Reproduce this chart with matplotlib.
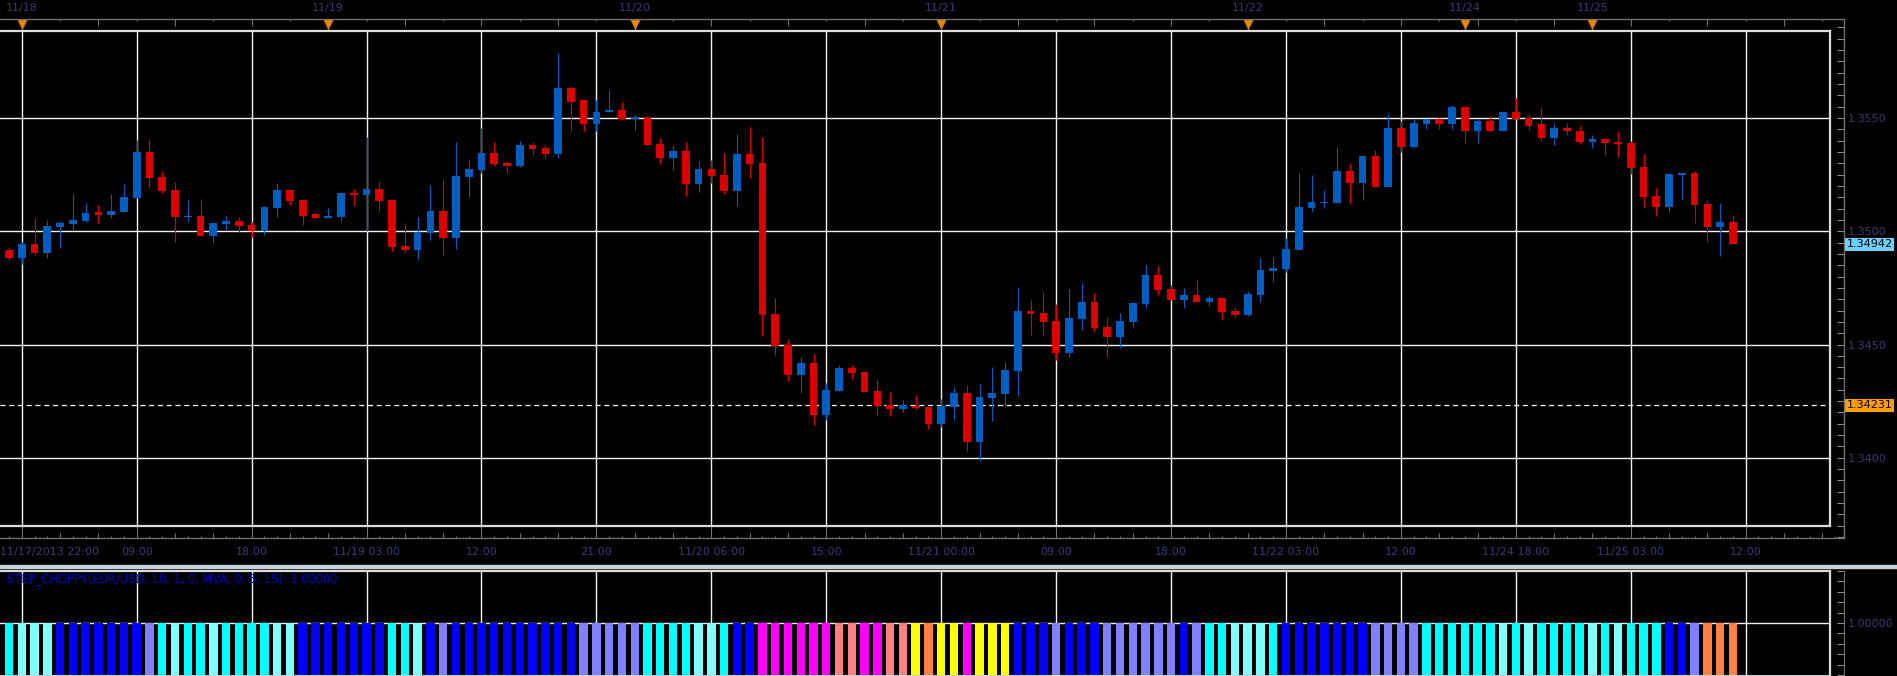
import numpy as np
import matplotlib
matplotlib.use('Agg')
import matplotlib.pyplot as plt
from matplotlib.transforms import blended_transform_factory
from matplotlib.patches import Rectangle
from matplotlib.ticker import MultipleLocator, FormatStrFormatter, FixedLocator, FixedFormatter

# EUR/USD hourly candles (index 0 = 11/17 21:00)
opens = [1.34917, 1.34882, 1.34944, 1.34904, 1.35019, 1.35032, 1.35046, 1.35083, 1.35072, 1.35086,
         1.35147, 1.35351, 1.35240, 1.35183, 1.35063, 1.35068, 1.34979, 1.35032, 1.35046, 1.35028,
         1.35002, 1.35103, 1.35183, 1.35139, 1.35074, 1.35059, 1.35063, 1.35170, 1.35161, 1.35187,
         1.35139, 1.34935, 1.34917, 1.34993, 1.35090, 1.34971, 1.35240, 1.35271, 1.35347, 1.35302,
         1.35289, 1.35382, 1.35369, 1.35342, 1.35630, 1.35577, 1.35475, 1.35524, 1.35537, 1.35493,
         1.35506, 1.35386, 1.35324, 1.35355, 1.35209, 1.35274, 1.35247, 1.35177, 1.35340, 1.35300,
         1.34633, 1.34496, 1.34364, 1.34417, 1.34191, 1.34293, 1.34395, 1.34377, 1.34293, 1.34231,
         1.34214, 1.34227, 1.34222, 1.34147, 1.34222, 1.34284, 1.34068, 1.34262, 1.34280, 1.34381,
         1.34647, 1.34638, 1.34602, 1.34461, 1.34611, 1.34686, 1.34576, 1.34532, 1.34598, 1.34677,
         1.34806, 1.34744, 1.34695, 1.34717, 1.34686, 1.34704, 1.34647, 1.34630, 1.34718, 1.34824,
         1.34833, 1.34917, 1.35103, 1.35125, 1.35125, 1.35267, 1.35214, 1.35333, 1.35196, 1.35457,
         1.35373, 1.35475, 1.35497, 1.35475, 1.35546, 1.35444, 1.35488, 1.35440, 1.35528, 1.35501,
         1.35471, 1.35413, 1.35457, 1.35444, 1.35395, 1.35409, 1.35395, 1.35391, 1.35285, 1.35156,
         1.35108, 1.35249, 1.35258, 1.35121, 1.35019, 1.35041]
highs = [1.34931, 1.34953, 1.35059, 1.35050, 1.35044, 1.35165, 1.35125, 1.35117, 1.35165, 1.35209,
         1.35404, 1.35409, 1.35267, 1.35218, 1.35139, 1.35143, 1.35037, 1.35068, 1.35063, 1.35041,
         1.35112, 1.35214, 1.35183, 1.35139, 1.35086, 1.35103, 1.35174, 1.35187, 1.35417, 1.35223,
         1.35139, 1.35037, 1.35063, 1.35205, 1.35232, 1.35395, 1.35316, 1.35457, 1.35395, 1.35311,
         1.35400, 1.35395, 1.35382, 1.35788, 1.35640, 1.35577, 1.35581, 1.35625, 1.35572, 1.35519,
         1.35506, 1.35413, 1.35382, 1.35395, 1.35311, 1.35314, 1.35345, 1.35429, 1.35460, 1.35415,
         1.34704, 1.34523, 1.34443, 1.34456, 1.34328, 1.34408, 1.34408, 1.34381, 1.34346, 1.34289,
         1.34253, 1.34275, 1.34222, 1.34258, 1.34311, 1.34320, 1.34324, 1.34399, 1.34421, 1.34753,
         1.34695, 1.34730, 1.34677, 1.34744, 1.34770, 1.34726, 1.34620, 1.34638, 1.34686, 1.34850,
         1.34845, 1.34761, 1.34748, 1.34784, 1.34717, 1.34704, 1.34664, 1.34736, 1.34882, 1.34886,
         1.34971, 1.35258, 1.35249, 1.35183, 1.35373, 1.35302, 1.35333, 1.35360, 1.35519, 1.35488,
         1.35493, 1.35497, 1.35501, 1.35555, 1.35546, 1.35497, 1.35510, 1.35528, 1.35586, 1.35519,
         1.35550, 1.35479, 1.35479, 1.35466, 1.35426, 1.35409, 1.35440, 1.35400, 1.35342, 1.35192,
         1.35254, 1.35258, 1.35267, 1.35139, 1.35125, 1.35072]
lows = [1.34873, 1.34856, 1.34895, 1.34882, 1.34926, 1.35006, 1.35041, 1.35037, 1.35059, 1.35086,
        1.35147, 1.35192, 1.35170, 1.34953, 1.35046, 1.34979, 1.34948, 1.35006, 1.34997, 1.34975,
        1.34984, 1.35063, 1.35117, 1.35028, 1.35055, 1.35059, 1.35046, 1.35112, 1.35003, 1.35090,
        1.34913, 1.34904, 1.34878, 1.34962, 1.34895, 1.34922, 1.35152, 1.35258, 1.35289, 1.35258,
        1.35285, 1.35338, 1.35320, 1.35324, 1.35444, 1.35444, 1.35444, 1.35524, 1.35493, 1.35448,
        1.35382, 1.35298, 1.35271, 1.35156, 1.35174, 1.35212, 1.35163, 1.35110, 1.35234, 1.34536,
        1.34452, 1.34337, 1.34284, 1.34143, 1.34169, 1.34293, 1.34346, 1.34289, 1.34191, 1.34183,
        1.34200, 1.34214, 1.34125, 1.34134, 1.34165, 1.34032, 1.33984, 1.34161, 1.34227, 1.34271,
        1.34540, 1.34540, 1.34430, 1.34443, 1.34563, 1.34554, 1.34443, 1.34483, 1.34576, 1.34660,
        1.34717, 1.34695, 1.34660, 1.34686, 1.34669, 1.34611, 1.34616, 1.34625, 1.34687, 1.34776,
        1.34820, 1.34917, 1.35090, 1.35103, 1.35125, 1.35121, 1.35139, 1.35196, 1.35196, 1.35351,
        1.35373, 1.35453, 1.35453, 1.35453, 1.35391, 1.35391, 1.35440, 1.35440, 1.35493, 1.35448,
        1.35400, 1.35382, 1.35426, 1.35386, 1.35369, 1.35338, 1.35329, 1.35254, 1.35108, 1.35068,
        1.35086, 1.35143, 1.35037, 1.34953, 1.34891, 1.34942]
closes = [1.34882, 1.34944, 1.34904, 1.35024, 1.35038, 1.35050, 1.35081, 1.35072, 1.35090, 1.35152,
          1.35351, 1.35236, 1.35178, 1.35063, 1.35068, 1.34979, 1.35037, 1.35046, 1.35024, 1.35002,
          1.35108, 1.35183, 1.35134, 1.35068, 1.35059, 1.35068, 1.35170, 1.35161, 1.35187, 1.35134,
          1.34931, 1.34917, 1.34997, 1.35090, 1.34971, 1.35245, 1.35276, 1.35347, 1.35298, 1.35289,
          1.35382, 1.35364, 1.35342, 1.35630, 1.35572, 1.35475, 1.35528, 1.35537, 1.35493, 1.35506,
          1.35382, 1.35324, 1.35355, 1.35209, 1.35276, 1.35243, 1.35177, 1.35340, 1.35296, 1.34629,
          1.34492, 1.34364, 1.34417, 1.34191, 1.34297, 1.34395, 1.34373, 1.34289, 1.34227, 1.34214,
          1.34231, 1.34218, 1.34147, 1.34227, 1.34284, 1.34068, 1.34267, 1.34284, 1.34386, 1.34647,
          1.34633, 1.34598, 1.34461, 1.34616, 1.34686, 1.34571, 1.34532, 1.34602, 1.34682, 1.34806,
          1.34739, 1.34695, 1.34717, 1.34686, 1.34704, 1.34642, 1.34629, 1.34723, 1.34829, 1.34838,
          1.34922, 1.35108, 1.35130, 1.35130, 1.35267, 1.35214, 1.35333, 1.35196, 1.35457, 1.35373,
          1.35479, 1.35497, 1.35475, 1.35546, 1.35444, 1.35488, 1.35440, 1.35528, 1.35497, 1.35466,
          1.35413, 1.35457, 1.35440, 1.35395, 1.35409, 1.35391, 1.35386, 1.35280, 1.35152, 1.35108,
          1.35254, 1.35258, 1.35117, 1.35019, 1.35041, 1.34942]

# STEP_CHOPPY state per bar (C cyan, LC light cyan, B blue, L lavender,
# M magenta, S salmon, Y yellow, O orange)
choppy_state = (['C', 'LC', 'LC', 'LC'] + ['B'] * 7 + ['L'] +
                ['C', 'LC', 'C', 'C', 'LC', 'C', 'C', 'C', 'C', 'LC', 'LC'] + ['B'] * 7 +
                ['C', 'C', 'LC', 'B', 'L'] + ['B'] * 10 + ['L'] * 5 +
                ['C', 'C', 'C', 'C', 'LC', 'LC', 'C', 'B', 'B'] + ['M'] * 6 +
                ['S', 'S', 'M', 'M', 'S', 'S', 'Y', 'O', 'Y', 'Y', 'M', 'Y', 'Y', 'Y'] +
                ['B', 'B', 'B', 'L', 'B', 'B', 'B'] + ['L'] * 6 + ['B', 'L'] +
                ['C', 'C', 'LC', 'LC', 'LC', 'C'] + ['B'] * 7 + ['L'] * 4 +
                ['C'] * 6 + ['LC', 'C', 'LC', 'C', 'C', 'C', 'C', 'LC', 'C', 'LC', 'C', 'C', 'C'] +
                ['B', 'B', 'L', 'O', 'O', 'O'])
choppy_value = 1.0

time_label_pos = [1, 10, 19, 28, 37, 46, 55, 64, 73, 82, 91, 100, 109, 118, 127, 136]
time_labels = ['11/17/2013 22:00', '09:00', '18:00', '11/19 03:00', '12:00', '21:00',
               '11/20 06:00', '15:00', '11/21 00:00', '09:00', '18:00', '11/22 03:00',
               '12:00', '11/24 18:00', '11/25 03:00', '12:00']
day_pos = [1, 25, 49, 73, 97, 114, 124]
day_labels = ['11/18', '11/19', '11/20', '11/21', '11/22', '11/24', '11/25']
price_ticks = [1.3400, 1.3450, 1.3500, 1.3550]
last_price = 1.34942
ref_price = 1.34231
title = 'STEP_CHOPPY(EUR/USD, 10, 1, 0, MVA, 0, 5, 15): 1.00000'

state_colors = {'C': '#00ffff', 'LC': '#80ffff', 'B': '#0000ff', 'L': '#8080ff',
                'M': '#ff00ff', 'S': '#ff8080', 'Y': '#ffff00', 'O': '#ff8040'}
UP = '#005ec2'
DOWN = '#dc0000'
GRID = '#f2f2f2'
FRAME = '#707070'
TXT = '#3a3a78'

W, H = 1897, 676
fig = plt.figure(figsize=(W / 100, H / 100), dpi=100)
fig.patch.set_facecolor('black')

CANDLE_PX = 12.77
FIRST_PX = 9.0


def idx_at(px):
    return (px - FIRST_PX) / CANDLE_PX


def price_at(py):
    return 1.3500 + (231.2 - py) * 0.005 / 113.3


def box(x0, y0, x1, y1):
    return [x0 / W, 1 - y1 / H, (x1 - x0) / W, (y1 - y0) / H]


# ---- outer frame of the price pane (axis strips) ----
frame = fig.add_axes(box(0, 18.5, 1844, 538))
frame.set_facecolor('black')
frame.set_xlim(idx_at(0), idx_at(1844))
frame.set_ylim(price_at(538), price_at(18.5))
frame.spines['left'].set_visible(False)
for s in ['top', 'right', 'bottom']:
    frame.spines[s].set_color(FRAME)
    frame.spines[s].set_linewidth(1)
frame.set_xticks([])
frame.yaxis.tick_right()
frame.set_yticks(price_ticks)
frame.yaxis.set_minor_locator(MultipleLocator(0.0005))
frame.yaxis.set_major_formatter(FormatStrFormatter('%.4f'))
frame.tick_params(axis='y', which='both', direction='in', length=5, width=0.8,
                  color='#8a8a8a', labelsize=8, labelcolor=TXT, pad=3)

tb = blended_transform_factory(frame.transData, frame.transAxes)
fh = 538 - 18.5
top_idx = np.arange(1, 144, 3)
top_len = np.where((top_idx - 1) % 6 == 0, 7, 2.5)
frame.vlines(top_idx, 1 - top_len / fh, 1, transform=tb, colors=FRAME, lw=0.8)
bot_idx = np.arange(0, 144)
bot_len = np.where((bot_idx - 1) % 9 == 0, 12, np.where((bot_idx - 1) % 3 == 0, 5, 2.5))
frame.vlines(bot_idx, 0, bot_len / fh, transform=tb, colors=FRAME, lw=0.8)

# day markers
frame.vlines(day_pos, (538 - 34) / fh, (538 - 26) / fh, transform=tb, colors='#c8c8c8', lw=0.8)
frame.plot(day_pos, [(538 - 23.5) / fh] * len(day_pos), linestyle='none', marker='v',
           markersize=6.5, color='#e88a00', markeredgecolor='#b86a00', markeredgewidth=0.5,
           transform=tb, clip_on=False)
for p, lab in zip(day_pos, day_labels):
    frame.text(p, (538 - 8.5) / fh, lab, transform=tb, ha='center', va='center',
               fontsize=8, color=TXT, clip_on=False)

# time labels
for p, lab in zip(time_label_pos, time_labels):
    if p == time_label_pos[0]:
        frame.text(idx_at(0), (538 - 552) / fh, lab, transform=tb, ha='left', va='center',
                   fontsize=8, color=TXT, clip_on=False)
    else:
        frame.text(p, (538 - 552) / fh, lab, transform=tb, ha='center', va='center',
                   fontsize=8, color=TXT, clip_on=False)

# price tags
tagt = blended_transform_factory(frame.transAxes, frame.transData)
frame.text(1846.5 / 1844, last_price, '%.5f' % last_price, transform=tagt, ha='left', va='center',
           fontsize=8, color='black', zorder=6, clip_on=False,
           bbox=dict(boxstyle='square,pad=0.12', fc='#6ccfff', ec='none'))
frame.text(1846.5 / 1844, ref_price, '%.5f' % ref_price, transform=tagt, ha='left', va='center',
           fontsize=8, color='black', zorder=6, clip_on=False,
           bbox=dict(boxstyle='square,pad=0.12', fc='#ff9c00', ec='none'))

# ---- price pane ----
ax = fig.add_axes(box(0, 31, 1830, 526))
ax.set_facecolor('black')
ax.set_xlim(idx_at(0), idx_at(1830))
ax.set_ylim(price_at(526), price_at(31))
ax.set_xticks([])
ax.set_yticks([])
ax.spines['left'].set_visible(False)
for s in ['top', 'right', 'bottom']:
    ax.spines[s].set_color('#dcdcdc')
    ax.spines[s].set_linewidth(1.6)

for p in time_label_pos:
    ax.axvline(p, color=GRID, lw=1.0, zorder=0)
for p in price_ticks:
    ax.axhline(p, color=GRID, lw=1.0, zorder=0)
ax.axhline(ref_price, color='white', lw=0.9, dashes=(4, 3), zorder=0)

o = np.array(opens)
h = np.array(highs)
l = np.array(lows)
c = np.array(closes)
x = np.arange(len(o))
cols = np.where(c >= o, UP, DOWN)
ax.vlines(x, l, h, colors=cols, lw=0.8, zorder=2)
body = np.maximum(np.abs(c - o), 0.00005)
ax.bar(x, body, bottom=np.minimum(o, c), width=0.6, color=cols, zorder=3)

# ---- separator ----
fig.patches.append(Rectangle((0, 1 - 567.5 / H), 1, 3 / H, transform=fig.transFigure,
                             color='#c8d0da', zorder=0))

# ---- indicator pane ----
ind_frame = fig.add_axes(box(0, 571, 1844, 675))
ind_frame.set_facecolor('black')
ind_frame.set_xlim(idx_at(0), idx_at(1844))
ind_frame.set_ylim(0, 2)
for s in ['top', 'left', 'bottom']:
    ind_frame.spines[s].set_visible(False)
ind_frame.spines['right'].set_color(FRAME)
ind_frame.set_xticks([])
ind_frame.yaxis.tick_right()
ind_frame.yaxis.set_major_locator(FixedLocator([choppy_value]))
ind_frame.yaxis.set_major_formatter(FixedFormatter(['%.5f' % choppy_value]))
ind_frame.yaxis.set_minor_locator(MultipleLocator(0.2))
ind_frame.tick_params(axis='y', which='both', direction='in', length=5, width=0.8,
                      color='#8a8a8a', labelsize=8, labelcolor=TXT, pad=3)

ind = fig.add_axes(box(0, 571, 1830, 675))
ind.set_facecolor('black')
ind.set_xlim(idx_at(0), idx_at(1830))
ind.set_ylim(0, 2)
ind.set_xticks([])
ind.set_yticks([])
ind.spines['left'].set_visible(False)
for s in ['top', 'right']:
    ind.spines[s].set_color('#dcdcdc')
    ind.spines[s].set_linewidth(1.6)
ind.spines['bottom'].set_color('#c8d0da')
for p in time_label_pos:
    ind.axvline(p, color=GRID, lw=1.0, zorder=0)
ind.axhline(choppy_value, color=GRID, lw=1.0, zorder=0)
ind.bar(np.arange(len(choppy_state)), [choppy_value] * len(choppy_state), width=0.66,
        color=[state_colors[s] for s in choppy_state], zorder=2)

fig.text(7 / W, 1 - 579 / H, title, fontsize=8.3, color='#0000d0', ha='left', va='center')

fig.savefig('out.png', dpi=100, facecolor='black')
